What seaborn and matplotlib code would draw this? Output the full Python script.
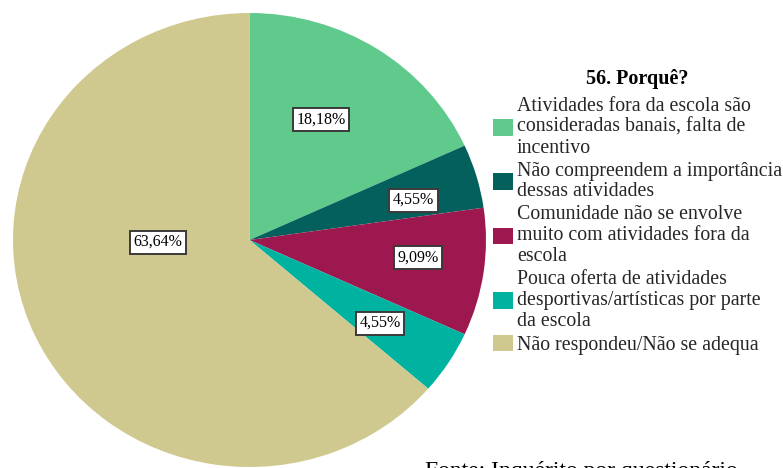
import matplotlib
matplotlib.use("Agg")
import matplotlib.pyplot as plt
import seaborn as sns
from matplotlib.patches import Patch

sns.set_theme(style="white")
plt.rcParams["font.family"] = ["Liberation Serif", "DejaVu Serif"]

# Answers to question 56 (percent of respondents)
categories = [
    "Atividades fora da escola são\nconsideradas banais, falta de\nincentivo",
    "Não compreendem a importância\ndessas atividades",
    "Comunidade não se envolve\nmuito com atividades fora da\nescola",
    "Pouca oferta de atividades\ndesportivas/artísticas por parte\nda escola",
    "Não respondeu/Não se adequa",
]
percentages = [18.18, 4.55, 9.09, 4.55, 63.64]
colors = ["#5fca8c", "#03605c", "#9e1850", "#00b3a0", "#d0c98f"]
title = "56. Porquê?"
source = "Fonte: Inquérito por questionário"

# where each percentage box sits inside the pie (data units of the unit circle)
label_xy = [(0.302, 0.529), (0.693, 0.176), (0.712, -0.079),
            (0.552, -0.366), (-0.387, -0.009)]

W, H = 783, 468
fig = plt.figure(figsize=(W / 100, H / 100), dpi=100)
fig.patch.set_facecolor("white")

# pie axes (slightly wider than tall)
left, right, top, bottom = 13, 486, 13, 467
ax = fig.add_axes([left / W, (H - bottom) / H, (right - left) / W, (bottom - top) / H])
wedges, _ = ax.pie(percentages, colors=colors, startangle=90, counterclock=False,
                   radius=1, wedgeprops=dict(linewidth=0))
ax.set_aspect("auto")
ax.set_xlim(-1, 1)
ax.set_ylim(-1, 1)
ax.axis("off")

for pct, (x, y) in zip(percentages, label_xy):
    ax.text(x, y, f"{pct:.2f}%".replace(".", ","), ha="center", va="center",
            fontsize=11.5, color="black",
            bbox=dict(boxstyle="square,pad=0.22", facecolor="white",
                      edgecolor="#3a3a3a", linewidth=1.4))

# legend title drawn on its own, centred above the entries
fig.text(637 / W, 1 - 79 / H, title, ha="center", va="center",
         fontsize=14.5, fontweight="bold", color="black")

handles = [Patch(facecolor=c, edgecolor="none") for c in colors]
leg = fig.legend(handles, categories, loc="upper left",
                 bbox_to_anchor=(493 / W, 1 - 97 / H), frameon=False,
                 prop=dict(size=14.3), handlelength=1.0, handleheight=0.9,
                 handletextpad=0.2, labelspacing=0.2, borderpad=0,
                 borderaxespad=0)
for t in leg.get_texts():
    t.set_linespacing(1.13)

fig.text(425 / W, 1 - 461 / H, source, ha="left", va="top", fontsize=17, color="black")

fig.savefig("out.png", dpi=100, facecolor="white")
